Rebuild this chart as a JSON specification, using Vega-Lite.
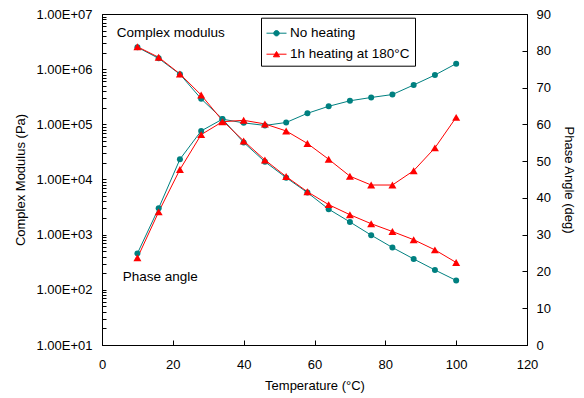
{
  "$schema": "https://vega.github.io/schema/vega-lite/v6.json",
  "width": 425,
  "height": 331,
  "autosize": {"type": "none"},
  "padding": {"left": 102, "top": 14, "right": 57, "bottom": 53},
  "background": "white",
  "config": {
    "font": "Liberation Sans",
    "view": {"stroke": "#000", "strokeWidth": 1},
    "axis": {
      "labelFont": "Liberation Sans", "titleFont": "Liberation Sans",
      "labelFontSize": 13, "titleFontSize": 13, "titleFontWeight": "normal",
      "labelColor": "#000", "titleColor": "#000", "domainColor": "#000", "tickColor": "#000",
      "grid": false, "labelOverlap": false
    },
    "legend": {
      "orient": "none", "legendX": 159, "legendY": 3.7, "direction": "vertical",
      "padding": 5, "fillColor": "white", "strokeColor": "#000",
      "labelFont": "Liberation Sans", "labelFontSize": 13.5, "labelColor": "#000",
      "symbolSize": 400, "rowPadding": 4, "labelOffset": 3, "symbolStrokeWidth": 1
    }
  },
  "datasets": {
    "main": [
      {"series": "No heating", "T": 10, "modulus": 2500000, "phase": 24.9},
      {"series": "No heating", "T": 16, "modulus": 1570000, "phase": 37.2},
      {"series": "No heating", "T": 22, "modulus": 810000, "phase": 50.5},
      {"series": "No heating", "T": 28, "modulus": 290000, "phase": 58.2},
      {"series": "No heating", "T": 34, "modulus": 125000, "phase": 61.4},
      {"series": "No heating", "T": 40, "modulus": 47000, "phase": 60.4},
      {"series": "No heating", "T": 46, "modulus": 21000, "phase": 59.7},
      {"series": "No heating", "T": 52, "modulus": 10800, "phase": 60.5},
      {"series": "No heating", "T": 58, "modulus": 5800, "phase": 63.0},
      {"series": "No heating", "T": 64, "modulus": 2900, "phase": 64.9},
      {"series": "No heating", "T": 70, "modulus": 1700, "phase": 66.4},
      {"series": "No heating", "T": 76, "modulus": 980, "phase": 67.3},
      {"series": "No heating", "T": 82, "modulus": 585, "phase": 68.1},
      {"series": "No heating", "T": 88, "modulus": 363, "phase": 70.7},
      {"series": "No heating", "T": 94, "modulus": 229, "phase": 73.4},
      {"series": "No heating", "T": 100, "modulus": 148, "phase": 76.5},
      {"series": "1h heating at 180°C", "T": 10, "modulus": 2550000, "phase": 23.7},
      {"series": "1h heating at 180°C", "T": 16, "modulus": 1640000, "phase": 36.2},
      {"series": "1h heating at 180°C", "T": 22, "modulus": 820000, "phase": 47.7},
      {"series": "1h heating at 180°C", "T": 28, "modulus": 340000, "phase": 57.2},
      {"series": "1h heating at 180°C", "T": 34, "modulus": 117000, "phase": 60.7},
      {"series": "1h heating at 180°C", "T": 40, "modulus": 50000, "phase": 61.1},
      {"series": "1h heating at 180°C", "T": 46, "modulus": 22600, "phase": 60.1},
      {"series": "1h heating at 180°C", "T": 52, "modulus": 11300, "phase": 58.2},
      {"series": "1h heating at 180°C", "T": 58, "modulus": 6000, "phase": 54.8},
      {"series": "1h heating at 180°C", "T": 64, "modulus": 3500, "phase": 50.5},
      {"series": "1h heating at 180°C", "T": 70, "modulus": 2300, "phase": 45.9},
      {"series": "1h heating at 180°C", "T": 76, "modulus": 1580, "phase": 43.5},
      {"series": "1h heating at 180°C", "T": 82, "modulus": 1140, "phase": 43.5},
      {"series": "1h heating at 180°C", "T": 88, "modulus": 810, "phase": 47.4},
      {"series": "1h heating at 180°C", "T": 94, "modulus": 530, "phase": 53.6},
      {"series": "1h heating at 180°C", "T": 100, "modulus": 313, "phase": 61.9}
    ]
  },
  "encoding": {
    "x": {
      "field": "T", "type": "quantitative",
      "scale": {"domain": [0, 120], "nice": false},
      "axis": {"title": "Temperature (°C)", "values": [0, 20, 40, 60, 80, 100, 120],
               "tickSize": -5, "labelPadding": 18, "labelFlush": false, "titlePadding": 8}
    },
    "color": {"field": "series", "type": "nominal",
              "scale": {"domain": ["No heating", "1h heating at 180°C"], "range": ["#008080", "#FF0000"]},
              "legend": {"title": null,
                "encode": {"symbols": {"update": {
                  "shape": {"signal": "datum.value === 'No heating' ? 'M-1,0L1,0M0.27,0A0.27,0.27,0,1,1,-0.27,0A0.27,0.27,0,1,1,0.27,0Z' : 'M-1,0L1,0M0,-0.27L0.31,0.26L-0.31,0.26Z'"},
                  "fill": {"signal": "datum.value === 'No heating' ? '#008080' : '#FF0000'"},
                  "stroke": {"signal": "datum.value === 'No heating' ? '#008080' : '#FF0000'"},
                  "strokeWidth": {"value": 1},
                  "opacity": {"value": 1},
                  "size": {"value": 400}
                }}}}}
  },
  "layer": [
    {
      "encoding": {
        "y": {
          "field": "modulus", "type": "quantitative",
          "scale": {"type": "log", "domain": [10, 10000000], "nice": false},
          "axis": {
            "title": "Complex Modulus (Pa)",
            "values": [10,20,30,40,50,60,70,80,90,100,200,300,400,500,600,700,800,900,1000,2000,3000,4000,5000,6000,7000,8000,9000,10000,20000,30000,40000,50000,60000,70000,80000,90000,100000,200000,300000,400000,500000,600000,700000,800000,900000,1000000,2000000,3000000,4000000,5000000,6000000,7000000,8000000,9000000,10000000],
            "labelExpr": "abs(log(datum.value)/LN10 - round(log(datum.value)/LN10)) < 0.000001 ? '1.00E+0' + round(log(datum.value)/LN10) : ''",
            "tickSize": -4, "labelPadding": 14, "titlePadding": 8
          }
        }
      },
      "layer": [
        {
          "data": {"name": "main"},
          "mark": {"type": "line", "strokeWidth": 1}
        },
        {
          "data": {"name": "main"},
          "transform": [{"filter": "datum.series === 'No heating'"}],
          "mark": {"type": "point", "shape": "circle", "filled": true, "opacity": 1, "size": 36}
        },
        {
          "data": {"name": "main"},
          "transform": [{"filter": "datum.series !== 'No heating'"}],
          "mark": {"type": "point", "shape": "triangle-up", "filled": true, "opacity": 1, "size": 64}
        },
        {
          "data": {"values": [{"label": "Complex modulus", "T": 4.15, "modulus": 4530000}]},
          "mark": {"type": "text", "align": "left", "baseline": "middle", "fontSize": 13.5, "font": "Liberation Sans"},
          "encoding": {"text": {"field": "label"}, "color": {"value": "#000"}}
        }
      ]
    },
    {
      "encoding": {
        "y": {
          "field": "phase", "type": "quantitative",
          "scale": {"domain": [0, 90], "nice": false},
          "axis": {"orient": "right", "title": "Phase Angle (deg)", "titleAngle": 90,
                   "values": [0, 10, 20, 30, 40, 50, 60, 70, 80, 90],
                   "tickSize": -5, "labelPadding": 14, "titlePadding": 11}
        }
      },
      "layer": [
        {
          "data": {"name": "main"},
          "mark": {"type": "line", "strokeWidth": 1}
        },
        {
          "data": {"name": "main"},
          "transform": [{"filter": "datum.series === 'No heating'"}],
          "mark": {"type": "point", "shape": "circle", "filled": true, "opacity": 1, "size": 36}
        },
        {
          "data": {"name": "main"},
          "transform": [{"filter": "datum.series !== 'No heating'"}],
          "mark": {"type": "point", "shape": "triangle-up", "filled": true, "opacity": 1, "size": 64}
        },
        {
          "data": {"values": [{"label": "Phase angle", "T": 5.84, "phase": 18.4}]},
          "mark": {"type": "text", "align": "left", "baseline": "middle", "fontSize": 13.5, "font": "Liberation Sans"},
          "encoding": {"text": {"field": "label"}, "color": {"value": "#000"}}
        }
      ]
    }
  ],
  "resolve": {"scale": {"y": "independent"}}
}
